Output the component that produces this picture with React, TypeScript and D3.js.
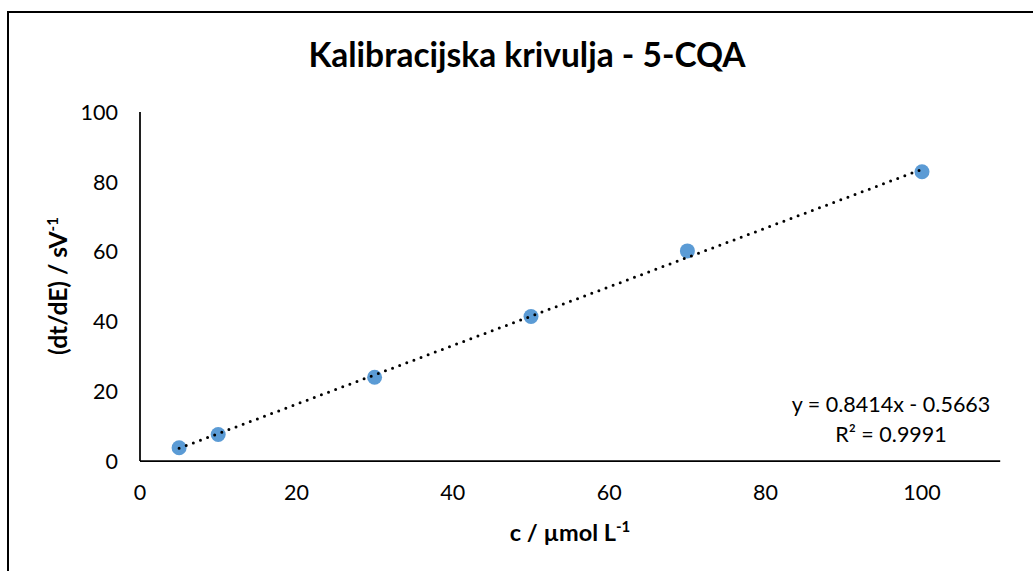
import React from "react";
import * as d3 from "d3";

// concentration (µmol/L) and response (dt/dE)
const concentrations = [5, 10, 30, 50, 70, 100];
const responses = [3.8, 7.6, 24.0, 41.4, 60.2, 82.9];
const xTicks = [0, 20, 40, 60, 80, 100];
const yTicks = [0, 20, 40, 60, 80, 100];
const slope = 0.8414;
const intercept = -0.5663;
const equationLines = ["y = 0.8414x - 0.5663", "R² = 0.9991"];

const W = 1033;
const H = 571;
const FONT = "Lato, 'Open Sans', sans-serif";

export default function App() {
    const margin = { top: 112, right: 33, bottom: 110, left: 140 };
    const x = d3.scaleLinear().domain([0, 110]).range([margin.left, margin.left + 782 * 1.1]);
    const y = d3.scaleLinear().domain([0, 100]).range([H - margin.bottom, margin.top]);

    const trend = d3.line<number>()
        .x(d => x(d))
        .y(d => y(slope * d + intercept));

    const xMin = d3.min(concentrations)!;
    const xMax = d3.max(concentrations)!;

    return (
        <svg width={W} height={H} style={{ position: "absolute", left: 0, top: 0, background: "#fff" }}>
            {/* chart frame */}
            <path d={`M8,${H + 5} L8,12 L${W + 5},12`} fill="none" stroke="#000" strokeWidth={2} />

            <text x={527} y={67} textAnchor="middle" fontFamily={FONT} fontWeight="bold" fontSize={33.5} fill="#000">
                Kalibracijska krivulja - 5-CQA
            </text>

            {/* axes */}
            <line x1={x(0)} x2={x(0)} y1={y(100)} y2={y(0)} stroke="#000" strokeWidth={1.75} />
            <line x1={x(0)} x2={x(110)} y1={y(0)} y2={y(0)} stroke="#000" strokeWidth={1.75} />

            {yTicks.map(t => (
                <text key={"y" + t} x={118} y={y(t)} dy="0.36em" textAnchor="end" fontFamily={FONT} fontSize={21.5} fill="#000">
                    {t}
                </text>
            ))}
            {xTicks.map(t => (
                <text key={"x" + t} x={x(t)} y={500} textAnchor="middle" fontFamily={FONT} fontSize={21.5} fill="#000">
                    {t}
                </text>
            ))}

            {/* axis titles */}
            <text x={570} y={541} textAnchor="middle" fontFamily={FONT} fontWeight="bold" fontSize={23.5} fill="#000">
                c / µmol L<tspan dy={-9} fontSize={15}>-1</tspan>
            </text>
            <text transform={`translate(67,${286}) rotate(-90)`} textAnchor="middle" fontFamily={FONT} fontWeight="bold" fontSize={24.5} fill="#000">
                (dt/dE) / sV<tspan dy={-9} fontSize={15}>-1</tspan>
            </text>

            {/* data points */}
            {concentrations.map((c, i) => (
                <circle key={c} cx={x(c)} cy={y(responses[i])} r={7.5} fill="#5B9BD5" />
            ))}

            {/* linear trendline */}
            <path
                d={trend([xMin, xMax])!}
                fill="none"
                stroke="#000"
                strokeWidth={3}
                strokeLinecap="round"
                strokeDasharray="0 7.6"
            />

            {equationLines.map((s, i) => (
                <text key={s} x={891} y={412 + i * 30} textAnchor="middle" fontFamily={FONT} fontSize={21.5} fill="#000">
                    {s}
                </text>
            ))}
        </svg>
    );
}
